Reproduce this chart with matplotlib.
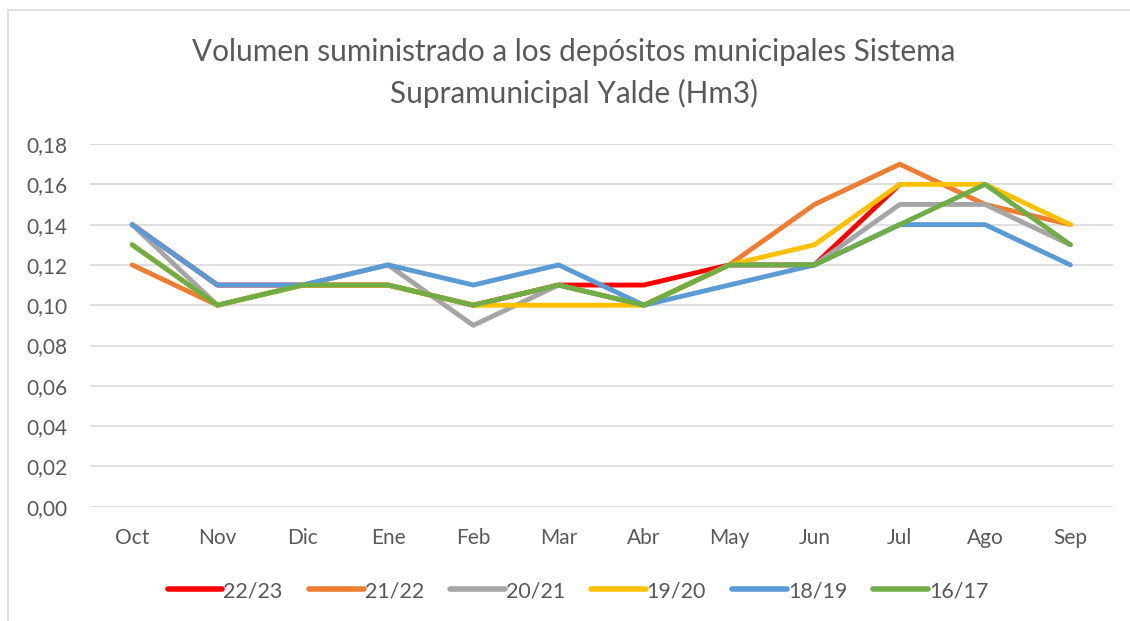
import numpy as np
import matplotlib
matplotlib.use("Agg")
import matplotlib.pyplot as plt
from matplotlib.patches import Rectangle
from matplotlib.ticker import FuncFormatter

months = ["Oct", "Nov", "Dic", "Ene", "Feb", "Mar", "Abr", "May", "Jun", "Jul", "Ago", "Sep"]
s_2223 = [0.14, 0.11, 0.11, 0.11, 0.10, 0.11, 0.11, 0.12, 0.12, 0.16, np.nan, np.nan]
s_2122 = [0.12, 0.10, 0.11, 0.11, 0.10, 0.11, 0.10, 0.12, 0.15, 0.17, 0.15, 0.14]
s_2021 = [0.14, 0.10, 0.11, 0.12, 0.09, 0.11, 0.10, 0.12, 0.12, 0.15, 0.15, 0.13]
s_1920 = [0.13, 0.10, 0.11, 0.11, 0.10, 0.10, 0.10, 0.12, 0.13, 0.16, 0.16, 0.14]
s_1819 = [0.14, 0.11, 0.11, 0.12, 0.11, 0.12, 0.10, 0.11, 0.12, 0.14, 0.14, 0.12]
s_1617 = [0.13, 0.10, 0.11, 0.11, 0.10, 0.11, 0.10, 0.12, 0.12, 0.14, 0.16, 0.13]
labels = ["22/23", "21/22", "20/21", "19/20", "18/19", "16/17"]
colors = ["#FF0000", "#ED7D31", "#A5A5A5", "#FFC000", "#5B9BD5", "#70AD47"]
series = [s_2223, s_2122, s_2021, s_1920, s_1819, s_1617]

plt.rcParams['font.family'] = ['Lato', 'DejaVu Sans']
txt = "#595959"

fig = plt.figure(figsize=(11.3, 6.21), dpi=100)
fig.patches.append(Rectangle((8/1130, -0.1), 2.0, 1 - 10/621 + 0.1, transform=fig.transFigure,
                             fill=False, edgecolor="#D9D9D9", linewidth=1.2))
ax = fig.add_axes([89.5/1130, 1 - 506.7/621, (1113 - 89.5)/1130, (506.7 - 144)/621])

x = np.arange(len(months))
for s, c, l in zip(series, colors, labels):
    ax.plot(x, s, color=c, linewidth=3.5, label=l, solid_joinstyle="round", solid_capstyle="round")

ax.set_xlim(-0.5, 11.5)
ax.set_ylim(0, 0.18)
ax.set_yticks(np.arange(0, 0.181, 0.02))
ax.yaxis.set_major_formatter(FuncFormatter(lambda v, p: f"{v:.2f}".replace(".", ",")))
ax.set_xticks(x)
ax.set_xticklabels(months)
ax.grid(axis="y", color="#D9D9D9", linewidth=1.2)
ax.set_axisbelow(True)
for sp in ax.spines.values():
    sp.set_visible(False)
ax.tick_params(length=0, labelsize=15, colors=txt)
ax.tick_params(axis="x", pad=15)
ax.tick_params(axis="y", pad=16)

fig.text(574/1130, 1 - 52/621, "Volumen suministrado a los depósitos municipales Sistema",
         ha="center", va="center", fontsize=21.4, color=txt)
fig.text(574/1130, 1 - 93/621, "Supramunicipal Yalde (Hm3)",
         ha="center", va="center", fontsize=21.4, color=txt)

leg = fig.legend(loc="center", bbox_to_anchor=(578/1130, 1 - 591/621), ncol=6, frameon=False,
                 fontsize=15.5, handlelength=2.55, handletextpad=0.05, columnspacing=1.2)
for t in leg.get_texts():
    t.set_color(txt)
for h in leg.get_lines():
    h.set_linewidth(4.0)

fig.savefig("out.png", dpi=100)
